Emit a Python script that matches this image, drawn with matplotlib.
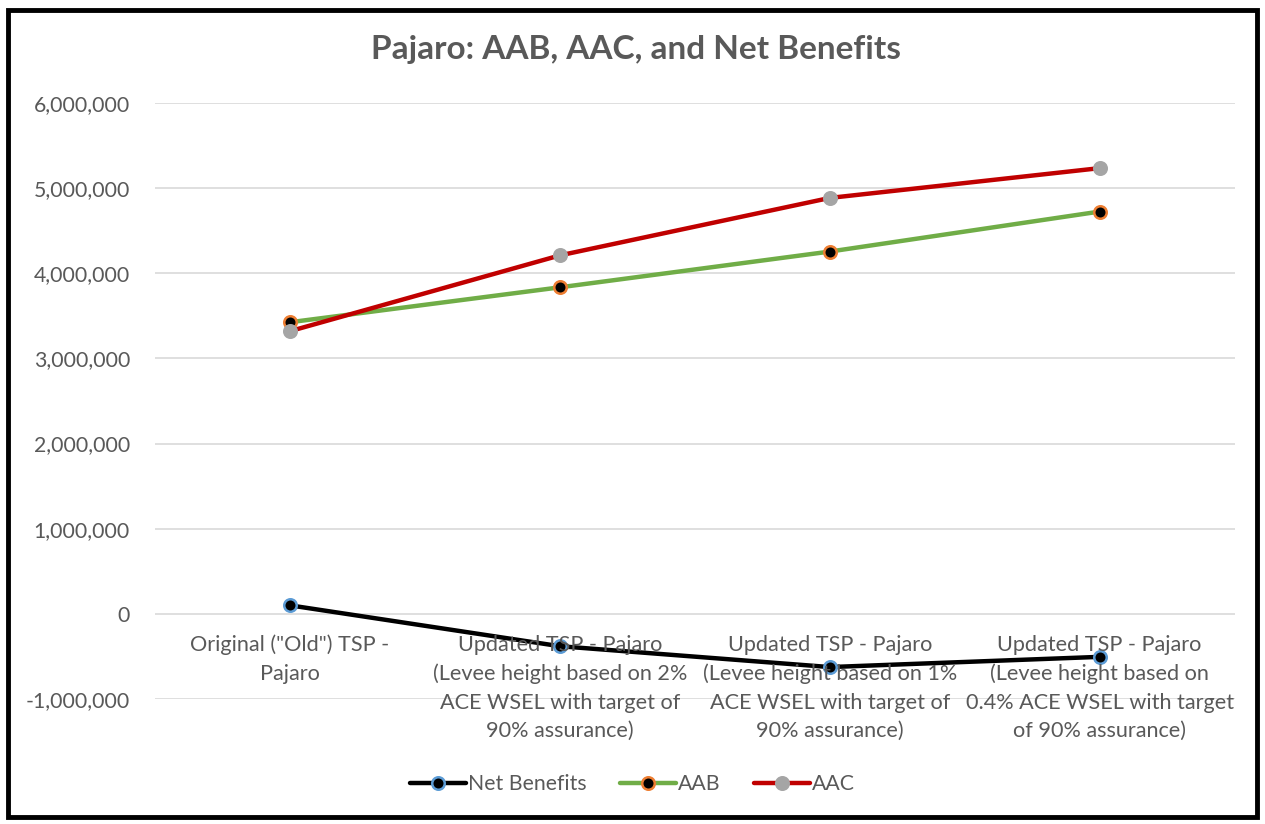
#!/usr/bin/env python3
"""Pajaro: AAB, AAC and net benefits line chart."""

import matplotlib

matplotlib.use("Agg")
import matplotlib.pyplot as plt
from matplotlib.patches import Rectangle
from matplotlib.ticker import FuncFormatter

categories = [
    'Original ("Old") TSP -\nPajaro',
    "Updated TSP - Pajaro\n(Levee height based on 2%\nACE WSEL with target of\n90% assurance)",
    "Updated TSP - Pajaro\n(Levee height based on 1%\nACE WSEL with target of\n90% assurance)",
    "Updated TSP - Pajaro\n(Levee height based on\n0.4% ACE WSEL with target\nof 90% assurance)",
]
net_benefits = [100_000, -380_000, -625_000, -505_000]
aab = [3_425_000, 3_835_000, 4_255_000, 4_725_000]
aac = [3_320_000, 4_210_000, 4_885_000, 5_235_000]
y_ticks = [-1_000_000, 0, 1_000_000, 2_000_000, 3_000_000, 4_000_000, 5_000_000, 6_000_000]

TEXT = "#595959"
plt.rcParams["font.family"] = ["Lato", "DejaVu Sans"]

fig = plt.figure(figsize=(12.65, 8.24), dpi=100)
ax = fig.add_axes([0.1225, 0.1517, 0.8535, 0.7233])

x = list(range(len(categories)))
series = [
    ("Net Benefits", net_benefits, "black", "black", "#5b9bd5"),
    ("AAB", aab, "#70ad47", "black", "#ed7d31"),
    ("AAC", aac, "#c00000", "#a5a5a5", "#a5a5a5"),
]
for label, vals, color, face, edge in series:
    ax.plot(x, vals, color=color, linewidth=3.2, marker="o", markersize=9,
            markerfacecolor=face, markeredgecolor=edge, markeredgewidth=1.8,
            label=label, solid_capstyle="round")

ax.set_xlim(-0.5, len(categories) - 0.5)
ax.set_ylim(y_ticks[0], y_ticks[-1])
ax.set_yticks(y_ticks)
ax.yaxis.set_major_formatter(FuncFormatter(lambda v, _: f"{v:,.0f}"))
ax.tick_params(axis="y", length=0, pad=18, labelsize=15.3, labelcolor=TEXT)
ax.set_xticks([])
ax.grid(True, axis="y", color="#d9d9d9", linewidth=1.2)
ax.set_axisbelow(True)
for s in ax.spines.values():
    s.set_visible(False)

# category labels hang under the zero line, like Excel's crossing axis
for i, lab in enumerate(categories):
    ax.annotate(lab, xy=(i, 0), xytext=(0, -15), textcoords="offset points",
                ha="center", va="top", fontsize=15.6, color=TEXT, linespacing=1.53)

fig.text(0.503, 0.94, "Pajaro: AAB, AAC, and Net Benefits", ha="center", va="center",
         fontsize=24, fontweight="bold", color=TEXT)

ax.legend(loc="center", bbox_to_anchor=(0.5, 0.048), bbox_transform=fig.transFigure,
          ncol=3, frameon=False, fontsize=15.3, labelcolor=TEXT, handlelength=2.6,
          handletextpad=0.1, columnspacing=1.6)

fig.add_artist(Rectangle((0.006, 0.008), 0.988, 0.98, transform=fig.transFigure,
                         fill=False, edgecolor="black", linewidth=3.5))

fig.savefig("out.png", dpi=100)
